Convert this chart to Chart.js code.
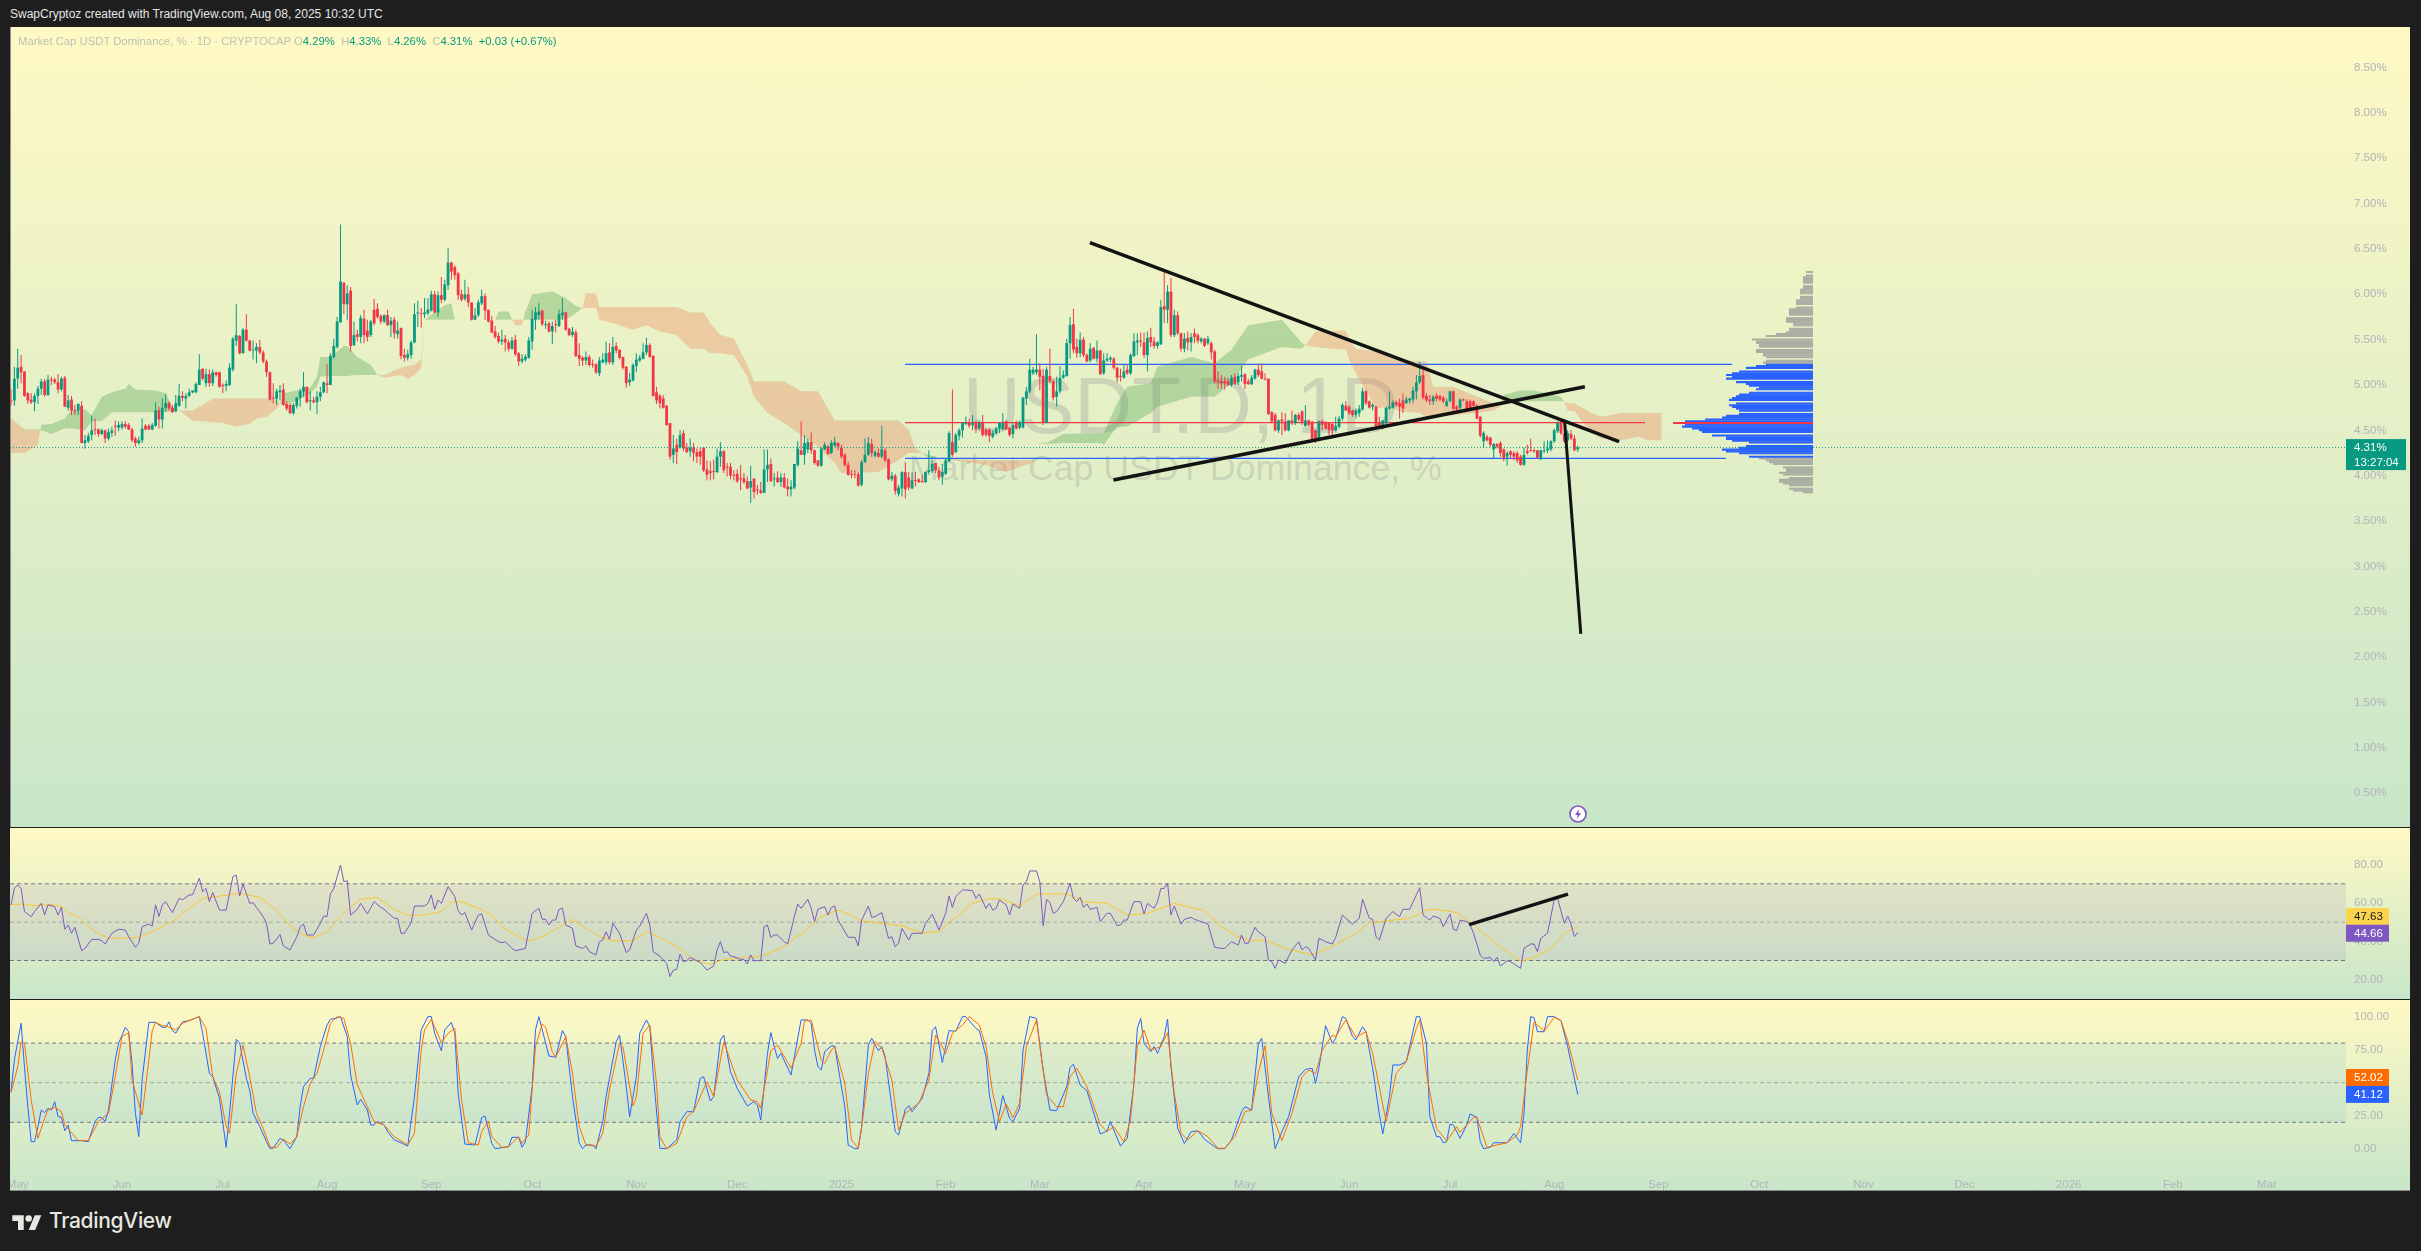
<!DOCTYPE html>
<html>
<head>
<meta charset="utf-8">
<title>USDT.D</title>
<script src="https://cdn.jsdelivr.net/npm/chart.js@4/dist/chart.umd.min.js"></script>
<style>
  html, body { margin: 0; padding: 0; background: #1e1e1e; width: 2421px; height: 1251px; overflow: hidden; font-family: "Liberation Sans", sans-serif; }
  .panel { position: absolute; left: 10px; width: 2400px; background: linear-gradient(180deg, #fff9c4 0%, #c8e6c9 100%); overflow: hidden; }
  .panel canvas { position: absolute; left: 0; top: 0; }
  #mainPanel { top: 27px; height: 800px; box-shadow: inset 1px 0 0 #8f8f8f; }
  #rsiPanel { top: 828px; height: 171px; }
  #stochPanel { top: 1000px; height: 190px; border-bottom: 1px solid #8a8a8a; }
  #header { position: absolute; left: 10px; top: 7px; font-size: 12px; color: #e6e6e6; white-space: nowrap; }
  #legend { position: absolute; left: 8px; top: 8px; font-size: 11.3px; color: #bcc3b4; white-space: pre; z-index: 3; }
  #legend b { font-weight: normal; color: #089981; }
  .mark { position: absolute; white-space: nowrap; color: rgba(120,123,134,.24); }
  #markBig { left: 953px; top: 333px; font-size: 80px; }
  #markSmall { left: 899px; top: 421px; font-size: 35.7px; }
  #flash { position: absolute; left: 1568px; top: 804px; z-index: 3; }
  #footer { position: absolute; left: 12px; top: 1208px; display: flex; align-items: center; color: #e8e8e2; }
  #footer span { font-family: Inter, sans-serif; font-size: 21px; font-weight: 500; margin-left: 7px; letter-spacing: -.3px; }
</style>
</head>
<body>
<div id="header">SwapCryptoz created with TradingView.com, Aug 08, 2025 10:32 UTC</div>
<div class="panel" id="mainPanel">
  <div class="mark" id="markBig">USDT.D, 1D</div>
  <div class="mark" id="markSmall">Market Cap USDT Dominance, %</div>
  <canvas id="mainChart" width="2400" height="800"></canvas>
  <div id="legend">Market Cap USDT Dominance, % · 1D · CRYPTOCAP O<b>4.29%</b>  H<b>4.33%</b>  L<b>4.26%</b>  C<b>4.31%</b>  <b>+0.03 (+0.67%)</b></div>
</div>
<svg id="flash" width="20" height="20" viewBox="0 0 20 20"><circle cx="10" cy="10" r="8" fill="#fff" stroke="#7e57c2" stroke-width="1.6"/><path d="M11 5 7 11h2.6L9 15l4-6h-2.6z" fill="#7e57c2"/></svg>
<div class="panel" id="rsiPanel"><canvas id="rsiChart" width="2400" height="171"></canvas></div>
<div class="panel" id="stochPanel"><canvas id="stochChart" width="2400" height="190"></canvas></div>
<div id="footer">
  <svg width="30" height="18" viewBox="0 0 36 22" fill="#e8e8e2"><path d="M14 22H7V11H0V4h14v18zM28 22h-8l7.5-18h8L28 22z"/><circle cx="20" cy="8" r="4"/></svg>
  <span>TradingView</span>
</div>

<script>
// days are counted from 1 Jun 2024, first candle is 29 Apr 2024
const firstDay = -33;
const viewDays = [-33.3, 661.5];
const monthDays = [-31,0,30,61,92,122,153,183,214,245,273,304,334,365,395,426,457,487,518,548,579,610,638];
const monthLabels = ['May','Jun','Jul','Aug','Sep','Oct','Nov','Dec','2025','Feb','Mar','Apr','May','Jun','Jul','Aug','Sep','Oct','Nov','Dec','2026','Feb','Mar'];
const priceTicks = [0.5,1,1.5,2,2.5,3,3.5,4,4.5,5,5.5,6,6.5,7,7.5,8,8.5];
const rsiTicks = [20,40,60,80];
const stochTicks = [0,25,50,75,100];

const opens = [4.83,4.83,5.07,5.20,5.15,4.91,4.84,4.81,4.88,4.96,
5.04,4.89,5.06,5.06,5.03,4.95,5.08,4.75,4.84,4.72,
4.72,4.77,4.36,4.38,4.45,4.51,4.51,4.46,4.50,4.41,
4.47,4.55,4.53,4.53,4.57,4.56,4.51,4.41,4.36,4.39,
4.55,4.55,4.51,4.55,4.72,4.62,4.75,4.80,4.75,4.71,
4.77,4.88,4.85,4.88,4.92,4.92,5.00,5.18,5.02,5.12,
5.02,5.14,5.14,5.00,4.99,5.00,5.17,5.49,5.54,5.35,
5.61,5.49,5.38,5.38,5.42,5.36,5.26,5.14,4.86,4.85,
4.92,4.95,4.79,4.78,4.69,4.77,4.86,4.93,4.98,4.82,
4.83,4.81,4.87,4.92,5.02,5.00,5.31,5.42,5.69,6.13,
5.89,6.04,5.44,5.56,5.53,5.73,5.60,5.55,5.83,5.84,
5.76,5.70,5.77,5.66,5.72,5.56,
5.63,5.33,5.30,5.33,5.47,5.79,5.79,5.78,5.79,5.82,
6.00,5.80,5.99,5.94,6.10,6.35,6.30,6.23,6.00,5.95,
6.00,5.91,5.72,5.77,5.90,5.98,5.83,5.71,5.59,5.54,
5.48,5.51,5.47,5.40,5.50,5.35,5.26,5.28,5.30,5.48,
5.72,5.77,5.82,5.66,5.68,5.59,5.67,5.65,5.77,5.80,
5.62,5.55,5.58,5.33,5.30,5.27,5.31,5.23,5.23,5.13,
5.25,5.25,5.36,5.25,5.43,5.39,5.31,5.20,5.03,5.05,
5.21,5.27,5.29,5.36,5.44,5.32,4.92,4.88,4.85,4.77,
4.58,4.23,4.34,4.31,4.47,4.31,4.27,4.31,4.26,4.27,
4.31,4.07,4.05,4.05,4.04,4.21,4.27,4.10,4.10,4.01,
4.02,3.97,3.97,3.94,3.87,3.97,3.85,3.84,3.81,4.07,
4.13,3.96,3.98,3.93,3.98,3.88,3.85,3.87,4.12,4.28,
4.23,4.29,4.37,4.28,4.17,4.11,4.29,4.32,4.25,4.33,
4.36,4.31,4.23,4.12,4.02,4.02,4.02,3.90,4.15,4.23,
4.35,4.22,4.25,4.21,4.28,4.18,3.96,4.00,3.80,3.86,
4.04,3.98,3.86,3.95,3.96,3.94,3.93,4.04,4.05,4.14,
4.06,3.99,4.02,4.16,4.37,4.26,4.44,4.50,4.57,4.59,
4.56,4.58,4.52,4.59,4.51,4.51,4.43,4.47,4.52,4.51,
4.60,4.53,4.46,4.59,4.53,4.53,4.85,4.93,5.13,5.14,
5.17,5.10,4.58,5.10,5.04,4.87,4.93,5.08,5.10,5.46,
5.67,5.42,5.35,5.50,5.33,5.27,5.41,5.29,5.38,5.13,
5.27,5.28,5.29,5.19,5.10,5.08,5.17,5.13,5.32,5.47,
5.49,5.47,5.33,5.53,5.48,5.43,5.45,5.87,5.83,6.03,
5.55,5.77,5.57,5.40,5.52,5.47,5.57,5.55,5.48,5.51,
5.46,5.46,5.37,5.05,5.04,5.04,5.04,5.00,5.09,5.03,
5.09,5.12,5.04,5.01,5.07,5.17,5.15,5.07,5.07,4.70,
4.67,4.50,4.62,4.60,4.50,4.61,4.58,4.67,4.71,4.55,
4.61,4.58,4.50,4.39,4.60,4.59,4.58,4.57,4.50,4.54,
4.63,4.77,4.76,4.72,4.67,4.69,4.73,4.93,4.82,4.76,
4.76,4.59,4.52,4.58,4.74,4.75,4.81,4.80,4.83,4.80,
4.83,4.84,4.93,5.03,5.11,4.88,4.84,4.82,4.88,4.88,
4.86,4.77,4.82,4.93,4.76,4.75,4.84,4.82,4.82,4.82,
4.77,4.65,4.38,4.43,4.42,4.29,4.35,4.36,4.29,4.21,
4.27,4.25,4.25,4.21,4.12,4.27,4.28,4.28,4.28,4.19,
4.27,4.28,4.29,4.38,4.49,4.60,4.47,4.39,4.46,4.41,4.29];
const highs = [4.96,5.20,5.40,5.33,5.15,4.92,4.91,4.91,4.99,5.07,
5.07,5.11,5.09,5.08,5.12,5.09,5.10,4.89,4.88,4.78,
4.80,4.82,4.45,4.47,4.66,4.63,4.52,4.52,4.51,4.52,
4.54,4.61,4.60,4.60,4.60,4.58,4.53,4.43,4.43,4.63,
4.57,4.57,4.58,4.81,4.76,4.85,4.90,4.82,4.78,4.89,
5.01,4.93,4.91,4.96,4.94,5.03,5.34,5.18,5.18,5.17,
5.17,5.15,5.15,5.02,5.05,5.24,5.53,5.89,5.55,5.63,
5.78,5.50,5.49,5.46,5.50,5.38,5.28,5.15,5.02,4.96,
5.00,5.02,4.82,4.80,4.80,4.87,4.96,5.14,4.98,4.93,
4.87,4.93,4.98,5.04,5.23,5.35,5.51,5.75,6.77,6.13,
6.10,6.08,5.70,5.61,5.77,5.83,5.72,5.72,5.95,5.90,
5.78,5.78,5.83,5.75,5.75,5.70,
5.63,5.40,5.39,5.49,5.90,5.93,5.85,5.96,5.96,6.04,
6.04,6.03,6.19,6.16,6.51,6.36,6.32,6.25,6.05,6.16,
6.08,5.91,5.85,5.94,6.05,6.01,5.83,5.76,5.65,5.58,
5.61,5.55,5.50,5.53,5.55,5.36,5.34,5.34,5.53,5.83,
5.86,5.90,5.83,5.71,5.70,5.70,5.72,5.83,5.96,5.81,
5.63,5.64,5.61,5.46,5.32,5.37,5.33,5.28,5.24,5.31,
5.35,5.48,5.46,5.53,5.47,5.39,5.31,5.21,5.13,5.24,
5.35,5.33,5.46,5.52,5.46,5.33,4.98,4.90,4.89,4.78,
4.58,4.45,4.41,4.50,4.50,4.36,4.41,4.36,4.30,4.31,
4.31,4.17,4.16,4.18,4.30,4.37,4.28,4.14,4.14,4.06,
4.07,4.12,4.03,3.99,4.11,3.97,3.90,3.93,4.29,4.29,
4.19,4.03,4.05,4.03,4.03,3.97,3.95,4.13,4.38,4.60,
4.45,4.41,4.48,4.29,4.17,4.31,4.37,4.34,4.39,4.43,
4.37,4.34,4.25,4.15,4.06,4.06,4.04,4.17,4.41,4.43,
4.41,4.28,4.30,4.55,4.30,4.19,4.04,4.02,3.90,4.05,
4.15,4.04,4.04,4.04,3.97,4.01,4.05,4.28,4.17,4.14,
4.10,4.13,4.19,4.49,4.95,4.47,4.52,4.59,4.65,4.63,
4.67,4.61,4.61,4.67,4.52,4.52,4.50,4.54,4.59,4.69,
4.61,4.54,4.58,4.61,4.61,4.87,4.98,5.29,5.20,5.56,
5.24,5.18,5.20,5.40,5.06,5.09,5.21,5.16,5.51,5.75,
5.84,5.51,5.58,5.53,5.35,5.46,5.42,5.49,5.39,5.35,
5.35,5.32,5.31,5.20,5.18,5.22,5.22,5.35,5.57,5.57,
5.58,5.58,5.59,5.63,5.53,5.48,5.94,6.25,6.10,6.18,
5.83,5.81,5.58,5.57,5.59,5.57,5.62,5.57,5.53,5.52,
5.54,5.48,5.39,5.15,5.11,5.09,5.08,5.11,5.13,5.13,
5.21,5.13,5.07,5.11,5.18,5.22,5.24,5.13,5.07,4.71,
4.69,4.62,4.70,4.69,4.61,4.72,4.68,4.69,4.72,4.78,
4.62,4.61,4.51,4.61,4.62,4.60,4.59,4.58,4.65,4.66,
4.80,4.82,4.78,4.73,4.74,4.78,4.97,4.95,4.83,4.80,
4.77,4.65,4.61,4.76,4.93,4.83,4.83,4.85,4.91,4.87,
4.86,4.98,5.11,5.26,5.20,4.91,4.89,4.89,4.91,4.89,
4.88,4.85,4.94,4.94,4.78,4.85,4.85,4.84,4.84,4.83,
4.79,4.66,4.49,4.45,4.43,4.36,4.36,4.38,4.30,4.27,
4.28,4.27,4.27,4.23,4.31,4.34,4.41,4.30,4.28,4.29,
4.38,4.39,4.39,4.52,4.60,4.61,4.56,4.50,4.50,4.45,4.33];
const lows = [4.77,4.77,4.96,5.02,4.87,4.79,4.79,4.71,4.79,4.89,
4.87,4.88,5.00,5.01,4.91,4.93,4.76,4.72,4.67,4.67,
4.67,4.36,4.30,4.36,4.39,4.45,4.43,4.45,4.36,4.39,
4.43,4.44,4.49,4.51,4.52,4.50,4.37,4.32,4.34,4.36,
4.50,4.50,4.50,4.54,4.52,4.52,4.71,4.72,4.69,4.70,
4.76,4.82,4.74,4.87,4.91,4.91,5.00,5.05,4.98,4.98,
4.99,5.09,4.97,4.91,4.93,4.99,5.15,5.43,5.34,5.35,
5.48,5.37,5.28,5.24,5.34,5.24,5.09,4.83,4.80,4.78,
4.83,4.77,4.72,4.68,4.67,4.74,4.76,4.87,4.80,4.72,
4.80,4.68,4.82,4.91,4.91,5.00,5.29,5.40,5.69,5.78,
5.72,5.37,5.43,5.48,5.46,5.46,5.48,5.53,5.66,5.73,
5.67,5.68,5.65,5.53,5.51,5.51,
5.28,5.26,5.27,5.29,5.46,5.64,5.63,5.74,5.77,5.81,
5.79,5.75,5.90,5.92,6.05,6.16,6.16,5.94,5.92,5.93,
5.86,5.71,5.72,5.75,5.88,5.72,5.69,5.57,5.51,5.46,
5.44,5.37,5.37,5.39,5.32,5.21,5.24,5.26,5.29,5.39,
5.61,5.72,5.65,5.62,5.58,5.45,5.58,5.64,5.72,5.60,
5.54,5.53,5.31,5.21,5.21,5.22,5.20,5.19,5.12,5.10,
5.24,5.22,5.23,5.22,5.35,5.28,5.17,4.97,4.99,5.04,
5.14,5.25,5.28,5.33,5.30,4.87,4.79,4.74,4.74,4.55,
4.18,4.14,4.13,4.30,4.27,4.25,4.21,4.16,4.14,4.12,
4.04,3.95,3.95,3.96,4.03,4.10,4.03,3.99,3.96,3.95,
3.92,3.84,3.91,3.85,3.70,3.75,3.79,3.80,3.81,3.93,
3.93,3.88,3.92,3.88,3.86,3.77,3.77,3.85,4.10,4.23,
4.12,4.25,4.24,4.12,4.10,4.10,4.28,4.23,4.24,4.32,
4.28,4.19,4.10,4.00,3.97,3.97,3.88,3.88,4.14,4.22,
4.21,4.20,4.20,4.19,4.15,3.95,3.94,3.79,3.77,3.77,
3.75,3.84,3.85,3.88,3.92,3.92,3.92,4.01,4.03,4.03,
3.95,3.90,4.01,4.15,4.21,4.25,4.39,4.42,4.56,4.53,
4.50,4.47,4.50,4.43,4.43,4.37,4.41,4.45,4.47,4.50,
4.50,4.43,4.41,4.51,4.51,4.52,4.78,4.91,5.11,5.11,
4.94,4.56,4.58,5.02,4.83,4.76,4.91,5.07,5.09,5.29,
5.35,5.30,5.31,5.31,5.25,5.25,5.28,5.25,5.11,5.11,
5.25,5.25,5.17,5.03,5.04,5.07,5.11,5.11,5.31,5.33,
5.42,5.30,5.15,5.42,5.40,5.40,5.44,5.68,5.68,5.53,
5.53,5.55,5.37,5.36,5.38,5.37,5.46,5.46,5.46,5.42,
5.44,5.28,5.02,4.96,4.96,4.95,4.99,4.98,5.00,5.00,
5.04,4.96,5.00,5.00,5.06,5.09,5.06,5.05,4.67,4.58,
4.49,4.47,4.45,4.49,4.49,4.56,4.56,4.60,4.56,4.54,
4.54,4.37,4.36,4.38,4.50,4.51,4.45,4.43,4.49,4.52,
4.61,4.71,4.67,4.65,4.63,4.65,4.72,4.78,4.74,4.72,
4.54,4.53,4.51,4.56,4.73,4.74,4.76,4.63,4.69,4.79,
4.80,4.80,4.84,5.01,4.84,4.81,4.78,4.78,4.82,4.82,
4.80,4.76,4.81,4.72,4.68,4.72,4.82,4.73,4.73,4.76,
4.62,4.42,4.31,4.38,4.32,4.19,4.30,4.21,4.16,4.11,
4.19,4.17,4.14,4.11,4.11,4.23,4.27,4.25,4.19,4.17,
4.25,4.25,4.27,4.36,4.47,4.45,4.36,4.37,4.39,4.27,4.26];
const closes = [4.82,5.07,5.19,5.14,4.88,4.83,4.81,4.88,4.96,5.04,
4.89,5.06,5.05,5.03,4.95,5.07,4.76,4.83,4.72,4.71,
4.79,4.36,4.39,4.44,4.50,4.50,4.46,4.50,4.41,4.48,
4.50,4.54,4.56,4.57,4.54,4.51,4.39,4.36,4.39,4.52,
4.51,4.51,4.56,4.72,4.62,4.75,4.80,4.74,4.70,4.80,
4.88,4.86,4.88,4.92,4.94,5.01,5.17,5.07,5.12,5.02,
5.14,5.11,4.98,4.99,5.01,5.19,5.51,5.55,5.35,5.61,
5.49,5.38,5.38,5.42,5.36,5.26,5.14,4.84,4.85,4.93,
4.94,4.78,4.74,4.69,4.78,4.86,4.93,4.98,4.81,4.83,
4.81,4.87,4.92,5.03,5.00,5.32,5.43,5.70,6.14,5.89,
6.01,5.43,5.55,5.53,5.74,5.55,5.53,5.70,5.68,5.75,
5.70,5.77,5.66,5.71,5.57,5.60,
5.32,5.30,5.34,5.47,5.78,5.79,5.78,5.80,5.83,6.00,
5.80,5.99,5.94,6.11,6.35,6.25,6.21,5.99,5.94,6.00,
5.91,5.72,5.77,5.91,5.98,5.82,5.70,5.58,5.53,5.48,
5.50,5.47,5.40,5.49,5.34,5.26,5.29,5.31,5.49,5.73,
5.80,5.81,5.67,5.67,5.59,5.65,5.66,5.78,5.80,5.61,
5.55,5.59,5.32,5.29,5.27,5.31,5.22,5.22,5.14,5.27,
5.28,5.35,5.25,5.42,5.38,5.30,5.19,5.02,5.06,5.22,
5.28,5.30,5.36,5.44,5.31,4.88,4.83,4.80,4.75,4.56,
4.21,4.30,4.26,4.45,4.30,4.26,4.31,4.25,4.21,4.21,
4.06,4.01,4.03,4.04,4.21,4.27,4.06,4.09,4.00,4.00,
3.94,3.96,3.93,3.86,3.94,3.82,3.84,3.81,4.07,4.12,
3.94,3.97,3.93,3.98,3.87,3.85,3.88,4.13,4.30,4.23,
4.36,4.37,4.28,4.14,4.11,4.30,4.34,4.24,4.36,4.37,
4.32,4.21,4.12,4.01,4.01,4.01,3.89,4.15,4.23,4.36,
4.25,4.26,4.21,4.29,4.17,3.96,4.00,3.83,3.87,4.04,
3.85,3.87,3.95,3.94,3.93,3.93,4.04,4.06,4.13,4.06,
3.98,4.04,4.17,4.47,4.23,4.45,4.50,4.58,4.58,4.55,
4.58,4.51,4.58,4.45,4.45,4.44,4.47,4.52,4.58,4.58,
4.51,4.45,4.56,4.52,4.59,4.86,4.93,5.17,5.17,5.17,
5.09,4.58,5.17,5.04,4.86,4.93,5.08,5.11,5.46,5.66,
5.39,5.35,5.50,5.33,5.26,5.40,5.29,5.38,5.12,5.27,
5.29,5.30,5.19,5.08,5.09,5.15,5.13,5.33,5.48,5.49,
5.48,5.33,5.52,5.47,5.43,5.47,5.86,5.83,6.03,5.55,
5.77,5.57,5.40,5.51,5.47,5.53,5.53,5.49,5.51,5.43,
5.51,5.36,5.04,5.03,5.02,5.02,5.00,5.08,5.01,5.10,
5.11,5.01,5.01,5.08,5.17,5.11,5.07,5.06,4.68,4.60,
4.50,4.61,4.60,4.50,4.61,4.58,4.67,4.62,4.58,4.61,
4.56,4.38,4.38,4.60,4.56,4.52,4.50,4.50,4.55,4.63,
4.78,4.72,4.69,4.67,4.72,4.74,4.93,4.80,4.75,4.78,
4.55,4.53,4.61,4.75,4.76,4.81,4.78,4.76,4.74,4.84,
4.85,4.94,5.03,5.10,4.86,4.83,4.82,4.87,4.85,4.84,
4.82,4.82,4.93,4.74,4.73,4.84,4.83,4.74,4.74,4.77,
4.63,4.44,4.47,4.39,4.34,4.35,4.32,4.25,4.19,4.25,
4.23,4.21,4.17,4.12,4.23,4.25,4.27,4.27,4.20,4.28,
4.28,4.30,4.38,4.50,4.58,4.47,4.38,4.47,4.41,4.28,4.31];

// ichimoku cloud edges
const cloudDays = [-33,-29,-25,-24,-21,-17,-15,-11,-9,-6,-3,1,2,4,10,13,15,17,21,24,27,30,34,36,38,40,43,46,47,48,52,56,58,59,62,66,67,70,74,76,78,83,85,87,89,90,91,96,98,99,111,112,115,116,117,119,120,122,128,132,135,137,138,141,142,146,152,156,160,165,169,173,175,178,182,186,188,192,197,202,207,208,212,214,225,231,234,236,238,240,243,257,263,269,271,272,275,280,291,292,296,299,306,308,318,325,330,335,345,351,352,355,364,365,367,373,377,380,386,388,390,396,403,408,410,411,416,420,428,429,430,432,437,440,446,451,454,458];
const spanA = [4.25,4.25,4.34,4.56,4.57,4.63,4.73,4.73,4.67,4.87,4.92,4.96,5.01,4.95,4.94,4.91,4.76,4.72,4.61,4.60,4.59,4.58,4.54,4.56,4.57,4.63,4.65,4.74,4.79,4.91,4.94,4.97,5.09,5.31,5.31,5.43,5.43,5.31,5.22,5.11,5.08,5.11,5.07,5.11,5.18,5.72,5.75,5.88,5.90,5.72,5.72,5.81,5.81,5.72,5.66,5.66,5.81,6.00,6.03,5.96,5.87,5.85,5.85,5.85,5.72,5.68,5.61,5.66,5.59,5.55,5.40,5.40,5.35,5.35,5.33,5.09,4.87,4.69,4.58,4.45,4.32,4.28,4.14,4.03,4.04,4.17,4.25,4.25,4.25,4.23,4.19,4.12,4.04,4.12,4.15,4.35,4.36,4.46,4.47,4.47,4.80,4.98,5.02,5.20,5.31,5.24,5.39,5.66,5.72,5.46,5.44,5.42,5.39,5.28,5.13,4.74,4.76,4.71,4.69,4.65,4.65,4.67,4.69,4.72,4.76,4.89,4.94,4.94,4.87,4.82,4.72,4.71,4.47,4.41,4.39,4.43,4.39,4.39];
const spanB = [4.63,4.51,4.51,4.50,4.46,4.52,4.52,4.50,4.60,4.60,4.70,4.70,4.70,4.70,4.70,4.70,4.71,4.72,4.72,4.78,4.85,4.85,4.85,4.85,4.85,4.85,4.85,4.84,4.79,4.78,4.82,4.91,4.98,5.09,5.10,5.10,5.10,5.11,5.11,5.11,5.11,5.19,5.21,5.22,5.28,5.72,5.72,5.72,5.72,5.72,5.72,5.72,5.72,5.72,5.72,5.72,5.72,5.72,5.72,5.72,5.79,5.85,6.01,6.01,5.86,5.86,5.86,5.86,5.86,5.86,5.80,5.80,5.68,5.55,5.51,5.22,5.04,5.04,5.04,4.93,4.93,4.87,4.61,4.61,4.61,4.61,4.50,4.30,4.25,4.19,4.19,4.17,4.17,4.17,4.17,4.35,4.35,4.36,4.36,4.34,4.54,4.54,4.69,4.76,4.87,4.87,5.02,5.28,5.42,5.40,5.44,5.59,5.60,5.50,5.40,5.37,5.31,5.28,5.26,5.26,4.98,4.98,4.87,4.80,4.76,4.82,4.82,4.82,4.82,4.82,4.80,4.80,4.69,4.65,4.69,4.69,4.69,4.69];

// drawn trend lines and horizontal levels, [day, price]
const fallingLine = [[287.9,6.569],[445.3,4.375]];
const risingLine = [[294.9,3.953],[435.1,4.981]];
const targetLine = [[429.1,4.595],[433.9,2.255]];
const levelHigh = [[232.9,5.228],[478.9,5.228]];
const levelLow = [[232.9,4.192],[477,4.192]];
const pocLeft = [[232.9,4.585],[453,4.585]];
const pocRight = [[462.8,4.585],[503,4.585]];
const lastPrice = 4.31;

// visible range volume, bottom row first, 0 marks the spacer rows
const vpStart = 3.817;
const vpStep = 0.01959;
const vpVolume = [10,20,24,0,24,30,34,34,24,0,30,34,27,27,30,0,40,44,47,54,64,0,74,87,91,74,67,0,64,81,87,87,101,0,111,114,121,131,128,140,128,108,91,87,74,0,74,77,81,84,77,0,84,81,77,74,64,0,57,54,64,67,77,0,87,81,87,81,74,0,67,57,47,50,47,0,47,50,50,57,57,0,54,54,57,57,61,0,47,37,27,24,24,0,20,20,27,27,27,0,24,24,24,24,17,0,17,17,17,13,13,0,13,13,13,10,10,0,10,10,10,10,7,0,7];
const vpValueArea = [20,72];
const vpPocRow = 39;

const rsiDays = [-33,-32,-31,-30,-29,-27,-26,-24,-23,-22,-20,-19,-18,-17,-16,-15,-14,-12,-11,-9,-7,-6,-5,-3,-1,1,2,4,5,6,8,9,10,11,12,13,15,17,18,20,21,23,24,25,26,27,29,31,33,34,35,36,38,39,40,42,43,44,45,47,48,50,52,53,54,55,57,59,60,61,62,63,65,66,67,68,70,71,73,75,77,78,79,81,82,83,84,86,87,90,91,92,93,94,95,97,99,100,101,102,104,106,107,109,112,113,114,116,117,120,122,124,125,126,127,128,129,130,131,132,134,135,137,138,139,141,142,143,144,145,146,148,150,151,153,154,156,157,158,160,162,163,164,165,166,167,168,169,172,174,176,177,178,179,180,181,182,184,185,186,187,188,190,191,192,193,194,195,197,198,200,201,
202,204,205,206,207,209,210,211,212,213,216,218,219,220,222,223,224,226,228,229,230,231,232,234,235,238,239,241,243,245,246,247,248,250,251,253,254,255,257,258,259,260,261,263,264,265,267,268,269,270,272,273,274,275,276,277,278,280,282,283,284,285,286,287,288,290,291,293,294,296,297,298,299,301,303,304,305,307,308,309,310,311,312,313,315,316,318,319,321,323,325,327,328,330,332,333,334,335,337,338,340,341,342,343,344,346,348,350,351,352,353,355,356,358,360,361,363,364,366,368,369,371,372,373,374,376,378,380,381,383,385,386,387,389,390,392,393,395,396,397,398,400,401,402,404,405,407,408,409,410,412,413,416,417,419,420,421,422,424,426,427,429,430,431,432,433];
const rsiValues = [59,67.6,69.4,67.6,55.5,52.9,55.5,59.8,53.7,59,58.1,53.7,57.7,46.3,48.5,44.2,47.3,35.1,36.3,41,41,40.3,38.6,44.2,46.3,45.9,42.4,36.9,39,47.6,49,48,59,52.9,59,60.7,55,62.4,61.6,64.2,64.2,72.9,65.9,67.6,60.7,65.4,56.3,56.3,73.7,74.6,63.6,69.9,59.8,60.2,57.7,52.9,49.4,38.6,39,43.5,37.6,35.5,42.4,47.6,49,43.3,43.3,49.4,53.2,52.9,64.7,67.6,79.8,71.1,71.6,53.7,56.7,59.8,54.3,60.7,57.7,56.7,55,52,52,44.2,44.2,49.7,58.4,58.4,59.8,64.2,56.7,61.6,59.8,68.5,63.3,56,53.7,55,45.9,53.7,54.3,43.3,39.8,39.3,39.8,36.3,35.1,36.3,54.6,57.2,51.5,51.5,48.5,51.1,51.1,56.7,57.2,48.5,46.8,37.6,36.3,37.6,34.6,32.9,39.8,40.7,45,41,49.4,44.2,34.1,35.5,45.9,48,54.6,48.5,34.6,32.3,28.5,21.6,25,25.4,33.4,29.4,29.9,31.6,28.9,25,27.1,35.5,39.8,34.1,34.6,32.3,32,30.6,30.6,28.2,32.9,29.9,29.9,47.6,48.5,42.1,43.3,43.3,39.8,38.6,52.9,59.5,
57.2,61.9,57.2,50.3,56.7,58.1,53.7,57.7,58.4,51.1,42.1,42.1,37.6,51.1,58.4,52.5,52.9,55,41.6,42.4,37.2,39,46.8,40.7,44.2,44.2,49.4,54.1,45.9,54.6,63.6,57.7,63.3,66.8,66.8,66.4,62.4,64.7,57.2,59.8,56.3,57.2,61.6,59,53.7,59.5,57.2,69.4,71.1,76.7,76.7,71.1,48,61.9,60.2,54.6,55.5,60.7,70.3,62.4,60.7,63,57.7,59.5,56.7,57.7,50.3,54.6,54.6,48.2,48.5,51.1,51.1,60.7,60.7,54.3,59.8,57.2,60.7,67.6,67.6,70.3,53.7,58.4,49,51.5,52.5,51.5,50.3,49,36.9,36.3,36.3,39.8,38.1,43.3,39,39,47.3,45,42.4,30.3,29.4,25.9,30.3,28.5,35.5,39.8,35.5,37.2,36.3,30.3,41.6,39.8,38.6,42.1,53.7,52,49,52,61.9,52,51.5,42.4,40.7,52,55.5,52.9,56.7,56.7,64.2,68,53.7,51.1,53.2,52,47.6,54.3,46.3,45.6,51.1,50.3,48.5,44.2,32.9,31.1,31.6,29.4,31.6,27.1,29.9,29.4,25.9,36.3,38.6,38.6,34.6,41.6,44.2,61.6,62.4,49.4,53.2,49,42.4,44.66];

const rsiMaDays = [-33,-30,-26,-21,-18,-16,-13,-10,-7,-4,1,5,9,15,20,24,29,35,41,46,50,54,57,61,65,68,71,76,81,85,90,95,98,101,106,110,113,117,121,125,130,134,138,142,146,152,156,160,166,170,175,179,185,190,196,201,202,205,208,213,217,220,226,232,238,243,247,253,258,262,267,272,281,286,293,299,305,309,313,322,327,332,336,340,346,354,361,367,371,383,388,391,397,402,408,416,420,425,429,433];
const rsiMaValues = [59,59.5,58.6,59.3,58.1,54.6,52.9,47.6,44.2,41.6,41.6,42.1,45,50.3,57.2,62.4,63.6,65,62.9,56.3,48,43.3,41.9,45,52.9,58.1,61.9,62.9,56.7,53.7,53.7,55.5,60.3,60.7,57.2,53.7,47.6,43.3,40.3,42.4,47.3,51.5,46.8,42.4,40.3,40.3,45,42.1,36.3,30.3,28,30.6,31.6,32.3,36.3,42.8,43.3,48.5,52.9,56.3,53.7,50.6,49.4,48,44.5,45,51.1,59.8,62.3,61.9,58.4,64.7,64.7,60.7,59.8,53.7,54.6,57.2,59.8,56,47.6,42.4,40.2,40.7,36.3,32.9,38.1,44.2,49.7,52,56.3,56.7,55,48.5,39.8,29.7,31.5,36.3,44.2,47.63];

const stochKDays = [-33,-32,-30,-29,-28,-27,-26,-25,-24,-23,-22,-21,-20,-19,-18,-17,-16,-15,-12,-10,-8,-7,-6,-5,-4,-2,-1,1,2,3,4,5,6,8,10,12,13,14,15,16,18,20,23,24,26,27,29,31,32,34,35,37,38,39,41,43,44,45,47,48,50,52,53,54,56,57,59,61,62,64,65,67,68,70,71,73,74,75,76,78,79,81,83,85,87,89,91,92,93,95,96,98,99,100,102,105,107,108,110,111,115,116,118,119,120,122,123,124,125,127,129,131,132,134,136,137,138,140,141,143,144,147,148,150,151,153,154,156,157,158,160,162,165,166,168,170,172,173,175,176,178,179,181,183,186,188,189,190,192,193,194,195,196,199,
202,204,205,206,207,208,209,211,212,213,215,216,218,219,220,222,223,225,226,227,230,231,233,234,235,238,240,241,242,244,246,248,250,251,254,255,257,258,260,262,264,265,267,268,270,272,274,276,278,281,282,283,285,287,291,293,294,295,297,299,301,302,303,304,306,307,308,310,311,312,314,316,318,320,322,325,326,328,330,333,334,336,338,339,341,343,345,347,350,352,354,355,356,358,360,361,363,364,366,367,369,370,372,374,375,377,378,380,382,383,385,386,388,389,391,392,393,394,395,396,398,400,401,403,404,405,407,408,412,414,416,417,418,419,420,421,423,424,426,428,430,433];
const stochKValues = [43.2,67.2,95,62.1,31.8,5.3,5.3,16.7,29.3,27.3,30.6,29.3,35.6,24.2,23.7,13.6,17.9,6.1,6.1,5.3,20.5,23.7,23.7,20.5,29.3,67.2,79.8,91.9,88.6,64.6,26.8,9.1,52,95.7,95.7,91.9,91.9,96,89.4,87.4,96,97,100,87.4,57,54.5,38.1,1,26.8,82.8,80.3,53.3,44.4,26.8,16.7,5.3,.3,.3,7.8,6.6,0,9.1,31.8,47,53.3,53.3,77.3,93.7,98,99,100,84.8,55.8,33.1,37.4,29.3,17.9,17.9,20.5,17.9,12.9,6.6,4.5,2,39.4,90,100,100,87.4,74.2,90,95.7,87.4,41.9,3.5,2.8,23.7,24.7,4,0,1.5,8.6,8.6,1,5.3,47,90,100,90,70.2,69.2,89.4,84.8,39.4,4.5,0,2.8,2.8,0,20.5,39.4,81,86,47,24.2,54.5,87.4,97.5,92.4,57,.3,0,6.6,20.5,28,28,53.3,54.5,36.1,39.4,82.3,86,58.3,45.7,32.3,35.6,33.1,21.7,72.2,87.9,77.3,68.4,72.2,55.8,
97.5,97.5,95,74.7,62.1,59.6,73.5,77.8,77.8,62.1,31.8,2.8,0,.3,16.7,78.5,83.6,74.2,77.3,69.7,12.9,10.4,29.8,32.6,28,38.1,57,89.4,92.4,65.2,89.4,88.9,100,100,91.1,89.4,69.7,40.7,14.1,40.2,23,20.5,30.6,74.7,100,98.7,59.6,29.3,28.8,47,61.6,64,48.2,43.9,11.1,13.4,20.5,14.1,2,7.8,49.5,91.1,98.7,79.8,73.5,77.3,72.2,84.8,98.2,62.1,15.4,4,12.9,13.6,7.1,1.5,0,0,6.6,28,31.8,29.3,79.8,83.6,39.4,0,12.9,24.2,54.5,60,60.9,49.5,60.9,93.2,79.8,83.6,100,98.7,85,82.3,92.4,88.6,60.9,25.5,11.1,39.4,63.4,63.4,65.9,77.3,100,100,79.8,24.2,9.1,9.1,4.5,5.3,18.7,17.9,7.8,17.9,26.3,23.7,5.3,0,1,4.5,4.5,11.6,4.5,26.8,74.7,100,99.2,88.6,88.6,100,100,97,77.3,41.12];

const stochDDays = [-33,-31,-30,-29,-27,-25,-23,-22,-20,-18,-17,-14,-13,-10,-7,-4,-2,0,2,3,6,8,9,10,12,13,16,18,21,23,25,27,29,31,32,34,36,38,40,42,44,46,48,50,52,54,56,58,60,62,64,66,68,70,73,75,78,81,85,87,89,90,92,93,95,97,99,101,103,106,107,109,110,113,115,118,119,121,123,125,126,128,129,132,134,136,138,141,143,145,148,149,152,153,155,157,159,160,162,165,168,170,174,176,179,183,187,189,190,193,195,199,
202,203,205,206,208,209,211,212,215,217,219,220,222,224,226,229,231,233,235,237,240,242,245,247,250,252,255,257,259,261,263,265,267,269,272,273,275,278,280,282,284,287,291,293,295,298,300,302,304,306,309,311,313,315,317,320,323,326,328,331,334,336,338,340,342,345,348,351,353,355,357,360,361,364,367,370,372,376,379,382,385,386,388,391,394,397,398,402,403,406,409,412,415,416,418,420,423,426,428,430,433];
const stochDValues = [42.4,62.1,81,79.8,36.9,7.8,23,29.3,31.3,28,17.9,9.1,6.1,6.1,20.5,26.8,54.5,84.8,87.9,52,25.5,67.2,89.4,95.7,93,93,90,95,98,100,91,54.5,43.2,16.7,11.6,57,78.5,54.5,26.8,15.4,1.5,.8,7.1,3.5,9.1,31.8,49.5,57,74.7,95,100,98.7,79.8,48.2,31.8,20.5,17.9,9.1,2.8,11.6,74.7,90,98,92.4,80.3,87.4,91.1,36.9,4.5,2.8,12.9,21,9.1,1,1.5,9.1,4,10.4,77.3,94.4,92,73.5,69.2,84.8,57,16.7,2.8,2,11.6,44.4,79.8,77.3,32.3,39.4,87.4,93.7,49.5,9.1,0,4,24.2,28,50.8,39.4,81,52,36.9,35.6,30.6,74.2,78.5,60.9,
79.8,96.5,97.5,87.4,67.2,64.6,74.7,77.3,49.5,6.6,.3,15.4,57,81,76.2,52,14.1,26.8,30.6,34.4,52,86,72.2,87.4,93.7,100,93.7,77.3,41.9,20.5,33.9,23.5,34.4,77.3,97.5,77.3,40.7,31.8,31.8,54.5,60.9,47,18.2,13,16.7,5.3,21.7,77.3,89.9,74.7,77.3,87.9,41.9,11.6,6.6,13.6,9.1,.3,.3,9.1,28,29.3,57.5,78,26.8,6.1,26.8,54.5,59.6,57,74.7,86,84.8,97.5,84.3,88.6,72.2,20.5,57,65.9,90.9,97.5,57,15.4,5.8,16.7,12.4,23.7,23.7,1,2.8,4.5,10.4,16.7,59.6,96,89,99.5,97,82,52.02];

const rsiDivergence = [[400.7,48.7],[430.1,64.6]];

const upColor = '#089981';
const downColor = '#f23645';
const blueColor = '#2962ff';
const axisText = '#b0b4ba';
const tickFont = { family: '"Liberation Sans", sans-serif', size: 11.5 };

const pairs = arr => arr.map(p => ({ x: p[0], y: p[1] }));
const zipDays = (days, vals) => days.map((d, i) => ({ x: d, y: vals[i] }));
const flat = v => [{ x: viewDays[0], y: v }, { x: viewDays[1], y: v }];

function lineSet(data, color, width, extra) {
  return Object.assign({ type: 'line', data: data, borderColor: color, borderWidth: width, pointRadius: 0, tension: 0, fill: false, xAxisID: 'x', yAxisID: 'y', borderCapStyle: 'butt' }, extra || {});
}

function barTags(chart, tags) {
  const ctx = chart.ctx;
  const a = chart.chartArea;
  const yScale = chart.scales.y;
  ctx.save();
  ctx.textBaseline = 'middle';
  ctx.font = '11.5px "Liberation Sans", sans-serif';
  tags.forEach(t => {
    const mid = yScale.getPixelForValue(t.value) + (t.nudge || 0);
    ctx.fillStyle = t.bg;
    ctx.fillRect(a.right, mid - t.h / 2, t.w, t.h);
    ctx.fillStyle = t.fg;
    ctx.textAlign = 'left';
    t.text.forEach((line, i) => ctx.fillText(line, a.right + 8, mid + (i - (t.text.length - 1) / 2) * 14.5 + 0.5));
  });
  ctx.restore();
}

const tagPlugin = { id: 'tagPlugin', afterDraw(chart, args, opts) { barTags(chart, opts.tags || []); } };

function baseOptions(yMin, yMax, yTicks, suffix, showTime, tags) {
  return {
    responsive: false,
    animation: false,
    devicePixelRatio: 1,
    events: [],
    layout: { padding: 0 },
    plugins: { legend: { display: false }, tooltip: { enabled: false }, tagPlugin: { tags: tags } },
    scales: {
      x: {
        type: 'linear', min: viewDays[0], max: viewDays[1], display: showTime, offset: false,
        grid: { display: false, offset: false }, border: { display: false },
        afterBuildTicks(s) { s.ticks = monthDays.map(d => ({ value: d })); },
        afterFit(s) { s.height = showTime ? 25 : 0; s.paddingLeft = 0; s.paddingRight = 0; },
        ticks: {
          autoSkip: false, maxRotation: 0, minRotation: 0, color: axisText, font: tickFont, padding: 5,
          callback: (v) => monthLabels[monthDays.indexOf(v)]
        }
      },
      y: {
        type: 'linear', position: 'right', min: yMin, max: yMax, offset: false,
        grid: { display: false }, border: { display: false },
        afterBuildTicks(s) { s.ticks = yTicks.map(v => ({ value: v })); },
        afterFit(s) { s.width = 64; s.paddingTop = 0; s.paddingBottom = 0; },
        ticks: { color: axisText, font: tickFont, padding: 0, crossAlign: 'near', callback: v => v.toFixed(2) + suffix }
      }
    }
  };
}

const candleDays = closes.map((c, i) => firstDay + i);
const candleColors = closes.map((c, i) => c >= opens[i] ? upColor : downColor);

const mainOptions = baseOptions(0.127, 8.947, priceTicks, '%', false, [
  { value: lastPrice, text: ['4.31%', '13:27:04'], bg: upColor, fg: '#ffffff', w: 60, h: 31, nudge: 7 }
]);
mainOptions.scales.xVol = { type: 'linear', axis: 'x', display: false, reverse: true, offset: false, min: -533, max: 1803 };
mainOptions.scales.yVol = { type: 'linear', axis: 'y', display: false, offset: false, min: 0.127, max: 8.947 };

new Chart(document.getElementById('mainChart'), {
  type: 'bar',
  plugins: [tagPlugin],
  data: {
    datasets: [
      lineSet(pairs(fallingLine), '#131313', 3.5),
      lineSet(pairs(risingLine), '#131313', 3.5),
      lineSet(pairs(targetLine), '#131313', 3),
      lineSet(flat(lastPrice), upColor, 1, { borderDash: [1, 2] }),
      {
        type: 'bar', data: candleDays.map((d, i) => ({ x: d, y: [opens[i], closes[i]] })),
        backgroundColor: candleColors, borderWidth: 0, grouped: false, categoryPercentage: 1, barPercentage: 1,
        maxBarThickness: 2.8, minBarLength: 1, inflateAmount: 0, xAxisID: 'x', yAxisID: 'y'
      },
      {
        type: 'bar', data: candleDays.map((d, i) => ({ x: d, y: [lows[i], highs[i]] })),
        backgroundColor: candleColors, borderWidth: 0, grouped: false, categoryPercentage: 1, barPercentage: 1,
        maxBarThickness: 1, inflateAmount: 0, xAxisID: 'x', yAxisID: 'y'
      },
      lineSet(pairs(levelHigh), blueColor, 1.3),
      lineSet(pairs(levelLow), blueColor, 1.3),
      lineSet(pairs(pocLeft), downColor, 1.3),
      lineSet(pairs(pocRight), downColor, 1.3),
      {
        type: 'bar', indexAxis: 'y', xAxisID: 'xVol', yAxisID: 'yVol',
        data: vpVolume.map((v, j) => ({ y: vpStart + j * vpStep, x: [0, v] })),
        backgroundColor: vpVolume.map((v, j) => j === vpPocRow ? downColor : (j >= vpValueArea[0] && j <= vpValueArea[1]) ? blueColor : '#abaea3'),
        borderWidth: 0, grouped: false, categoryPercentage: 1, barPercentage: 1.2, inflateAmount: 0
      },
      lineSet(zipDays(cloudDays, spanA), 'transparent', 0, { fill: { target: '+1', above: 'rgba(67,160,71,0.32)', below: 'rgba(239,130,90,0.34)' } }),
      lineSet(zipDays(cloudDays, spanB), 'transparent', 0)
    ]
  },
  options: mainOptions
});

new Chart(document.getElementById('rsiChart'), {
  type: 'line',
  plugins: [tagPlugin],
  data: {
    datasets: [
      lineSet(pairs(rsiDivergence), '#131313', 3.5),
      lineSet(zipDays(rsiDays, rsiValues), '#7e57c2', 1),
      lineSet(zipDays(rsiMaDays, rsiMaValues), '#fbc531', 1),
      lineSet(flat(50), 'rgba(120,123,134,0.55)', 1, { borderDash: [4, 3] }),
      lineSet(flat(70), '#787b86', 1, { borderDash: [4, 3], fill: { target: '+1', above: 'rgba(126,87,194,0.11)' } }),
      lineSet(flat(30), '#787b86', 1, { borderDash: [4, 3] })
    ]
  },
  options: baseOptions(9.93, 99.1, rsiTicks, '', false, [
    { value: 47.63, text: ['47.63'], bg: '#fbd44c', fg: '#131722', w: 43, h: 17, nudge: -10.3 },
    { value: 44.66, text: ['44.66'], bg: '#7e57c2', fg: '#ffffff', w: 43, h: 17, nudge: 0.8 }
  ])
});

new Chart(document.getElementById('stochChart'), {
  type: 'line',
  plugins: [tagPlugin],
  data: {
    datasets: [
      lineSet(zipDays(stochDDays, stochDValues), '#ff6d00', 1),
      lineSet(zipDays(stochKDays, stochKValues), blueColor, 1),
      lineSet(flat(50), 'rgba(120,123,134,0.55)', 1, { borderDash: [4, 3] }),
      lineSet(flat(80), '#787b86', 1, { borderDash: [4, 3], fill: { target: '+1', above: 'rgba(33,150,243,0.09)' } }),
      lineSet(flat(20), '#787b86', 1, { borderDash: [4, 3] })
    ]
  },
  options: baseOptions(-12.35, 112.6, stochTicks, '', true, [
    { value: 52.02, text: ['52.02'], bg: '#ff6d00', fg: '#ffffff', w: 43, h: 17, nudge: -2.5 },
    { value: 41.12, text: ['41.12'], bg: blueColor, fg: '#ffffff', w: 43, h: 17, nudge: 0 }
  ])
});
</script>
</body>
</html>
